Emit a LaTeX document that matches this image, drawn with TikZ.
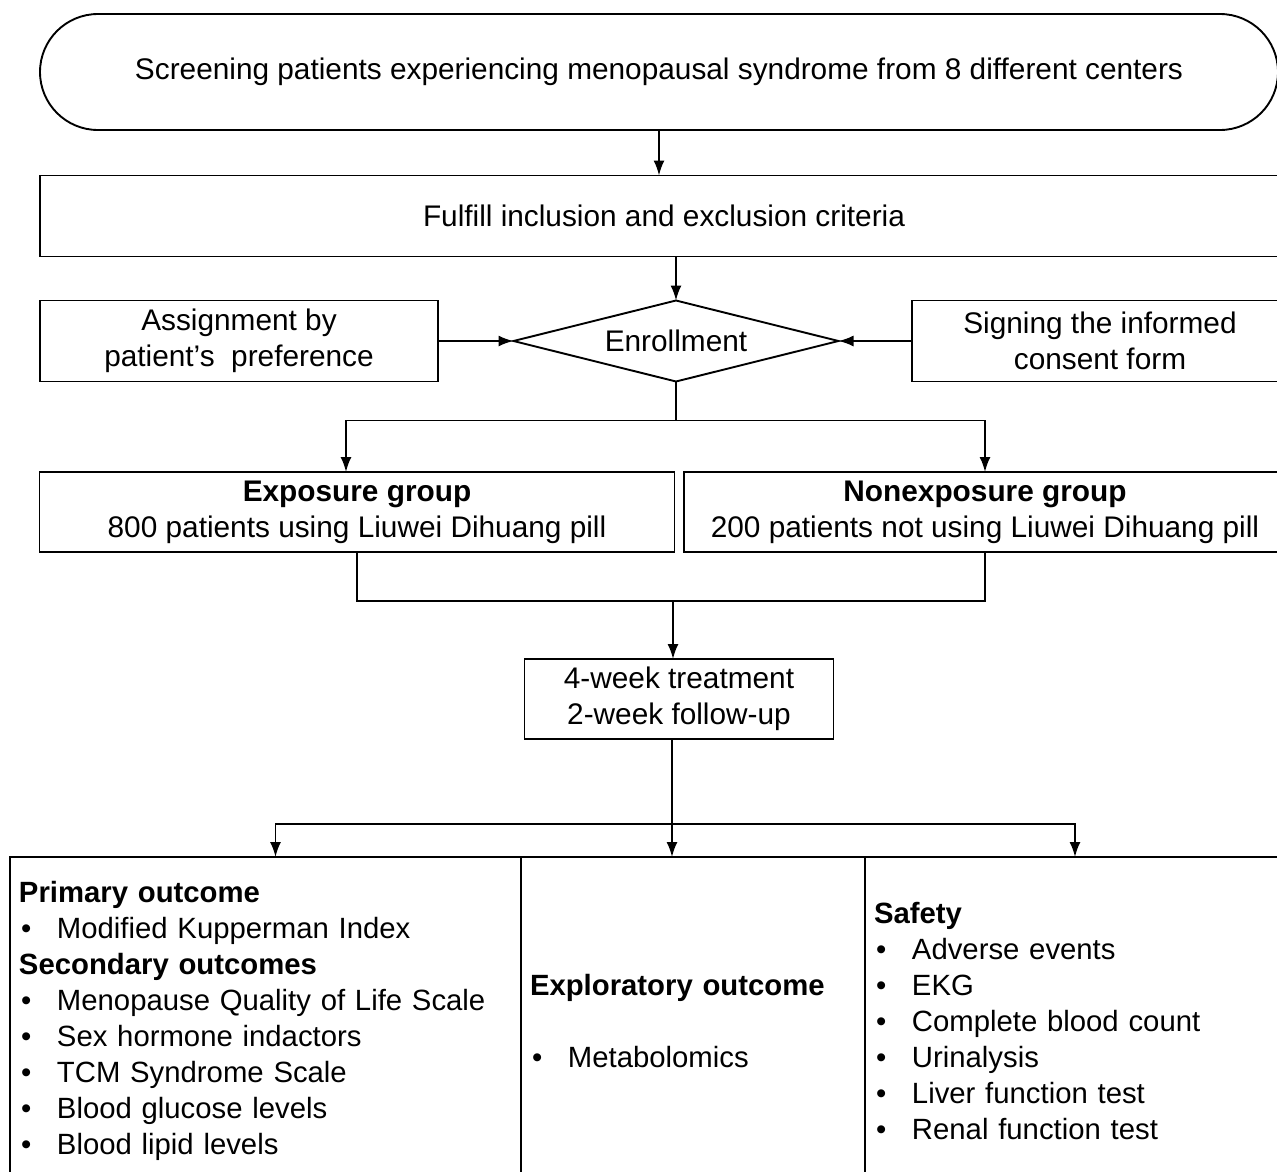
\documentclass[tikz,border=0pt]{standalone}
\usepackage{fontspec}
\setmainfont{Liberation Sans}
\usepackage{tikz}
\usetikzlibrary{shapes,positioning,arrows.meta}
\newcommand\outitem{\makebox[38pt][l]{\hspace{2pt}\textbullet}}

\begin{document}
\begin{tikzpicture}[x=1pt, y=-1pt, line width=1.9pt, >={Latex[length=15pt,width=11pt]},
  box/.style={draw, outer sep=0pt, inner sep=2pt, align=center, font=\fontsize{29.8}{36}\selectfont},
  outbox/.style={draw, outer sep=0pt, inner xsep=9pt, inner ysep=0pt, align=left, anchor=north west, minimum height=328, font=\fontsize{29.3}{36}\selectfont}]
\useasboundingbox (0,0) rectangle (1277,1171);
\node[box, rounded corners=58pt, minimum width=1238, minimum height=116](screen) at (659,72){Screening patients experiencing menopausal syndrome from 8 different centers};
\node[box, minimum width=1248, minimum height=81](fulfill) at (664,216){Fulfill inclusion and exclusion criteria};
\node[box, shape=diamond, aspect=4, inner sep=0pt, minimum width=325, minimum height=81](enroll) at (676,341){Enrollment};
\node[box, minimum width=398, minimum height=81](assign) at (239,341){Assignment by\\ patient{\char"0027}s~ preference};
\node[box, minimum width=376, minimum height=81](sign) at (1100,341){Signing the informed\\ consent form};
\node[box, minimum width=635, minimum height=80](expo) at (357,512){\textbf{Exposure group}\\ 800 patients using Liuwei Dihuang pill};
\node[box, minimum width=602, minimum height=80](nonexpo) at (985,512){\textbf{Nonexposure group}\\ 200 patients not using Liuwei Dihuang pill};
\node[box, minimum width=309, minimum height=80](treat) at (679,699){4-week treatment\\ 2-week follow-up};
%outcomes
\node[outbox, text width=493](primary) at (10,857){\textbf{Primary outcome}\\ \outitem Modified Kupperman Index\\ \textbf{Secondary outcomes}\\ \outitem Menopause Quality of Life Scale\\ \outitem Sex hormone indactors\\ \outitem TCM Syndrome Scale\\ \outitem Blood glucose levels\\ \outitem Blood lipid levels};
\node[outbox, text width=326](explore) at (primary.north east){\textbf{Exploratory outcome}\\[36pt] \outitem Metabolomics};
\node[outbox, text width=402](safety) at (explore.north east){\textbf{Safety}\\ \outitem Adverse events\\ \outitem EKG\\ \outitem Complete blood count\\ \outitem Urinalysis\\ \outitem Liver function test\\ \outitem Renal function test};
%path
\path[draw, ->](screen.south) -- (screen.south |- fulfill.north);
\path[draw, ->](enroll.north |- fulfill.south) -- (enroll.north);
\path[draw, ->](assign) -- (enroll.west);
\path[draw, ->](sign) -- (enroll.east);
\path[draw](enroll.south) -- ++(0,39) coordinate (split);
\path[draw, ->](split) -| ([xshift=-11pt]expo.north);
\path[draw, ->](split) -| (nonexpo.north);
\path[draw](expo.south) -- ++(0,49) coordinate (merge) -| (nonexpo.south);
\path[draw, ->]([xshift=-6pt]treat.north |- merge) -- ([xshift=-6pt]treat.north);
\path[draw](treat.south) ++(-7pt,0) coordinate (down) -- ++(0,85) coordinate (fork);
\path[draw, ->](down) -- (down |- explore.north);
\path[draw, ->](fork) -| ([xshift=10pt]primary.north);
\path[draw, ->](fork) -| (safety.north);
\end{tikzpicture}
\end{document}
